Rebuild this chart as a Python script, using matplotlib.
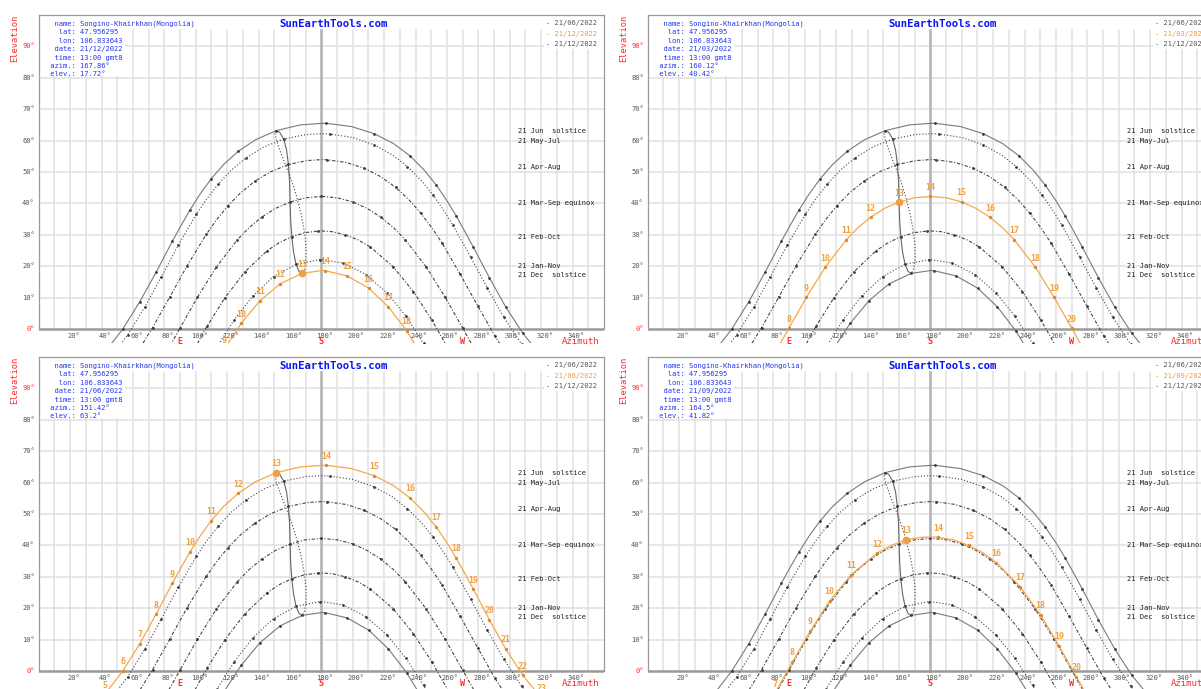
import matplotlib
matplotlib.use('Agg')
import matplotlib.pyplot as plt
from matplotlib.patches import Rectangle

W, H = 1201, 689
MONO = 'DejaVu Sans Mono'

# sun paths on the 21st of each month group, hourly positions (clock time gmt8)
JUN_HOURS = list(range(5, 24))
JUN_AZ = [42.1, 53.7, 64.4, 74.8, 85.2, 96.5, 109.8, 127.1, 151.42, 183.1, 213.8,
          236.6, 253.0, 265.8, 276.8, 287.1, 297.5, 308.4, 320.2]
JUN_EL = [-7.4, 0.1, 8.7, 18.1, 28.0, 38.0, 47.8, 56.6, 63.2, 65.5, 62.2,
          55.1, 46.0, 36.1, 26.1, 16.3, 7.0, -1.4, -8.6]
JUN_HALF_AZ = [90.7, 102.75, 117.7, 138.2, 166.7, 199.2, 226.2, 245.4, 259.7, 271.4]
JUN_HALF_EL = [32.98, 42.93, 52.35, 60.3, 65.0, 64.48, 58.99, 50.67, 41.1, 31.1]

MAY_HOURS = list(range(5, 24))
MAY_AZ = [44.8, 56.6, 67.6, 78.1, 88.8, 100.5, 114.3, 132.1, 156.1, 185.4, 213.4,
          234.9, 251.0, 263.9, 275.1, 285.7, 296.3, 307.6, 319.8]
MAY_EL = [-9.6, -1.9, 7.0, 16.6, 26.6, 36.6, 46.1, 54.5, 60.5, 62.1, 58.7,
          51.7, 42.8, 33.0, 22.9, 13.1, 3.7, -4.8, -12.1]
MAY_HALF_AZ = [107.0, 122.5, 143.2, 170.4, 200.05, 225.0, 243.5, 257.8]
MAY_HALF_EL = [41.43, 50.53, 57.93, 61.93, 61.0, 55.56, 47.4, 37.92]

APR_HOURS = list(range(6, 23))
APR_AZ = [61.1, 72.5, 83.5, 94.6, 106.7, 120.6, 137.8, 159.1, 183.5, 207.3,
          227.4, 243.5, 256.9, 268.5, 279.6, 290.6, 302.3]
APR_EL = [-8.8, 0.4, 10.2, 20.2, 30.1, 39.3, 47.1, 52.4, 53.9, 51.2,
          45.1, 36.8, 27.4, 17.4, 7.4, -2.3, -11.3]
APR_HALF_AZ = [113.3, 128.7, 147.9, 171.1, 195.8, 217.9, 235.9, 250.5]
APR_HALF_EL = [34.8, 43.41, 50.11, 53.65, 53.04, 48.49, 41.14, 32.19]

MAR_HOURS = list(range(7, 22))
MAR_AZ = [78.6, 89.9, 101.1, 113.1, 126.5, 142.0, 160.12, 180.0, 199.9, 218.0,
          233.5, 246.9, 258.9, 270.1, 281.4]
MAR_EL = [-9.8, 0.2, 10.1, 19.7, 28.4, 35.6, 40.42, 42.2, 40.5, 35.6,
          28.4, 19.7, 10.1, 0.2, -9.8]
MAR_HALF_AZ = [133.96, 150.8, 169.9, 190.1, 209.2, 226.0]
MAR_HALF_EL = [32.27, 38.4, 41.79, 41.79, 38.4, 32.27]

FEB_HOURS = list(range(8, 21))
FEB_AZ = [96.1, 107.1, 118.7, 131.3, 145.4, 161.2, 178.2, 195.2, 211.3, 225.8,
          238.7, 250.5, 261.6]
FEB_EL = [-9.1, 0.8, 10.0, 18.2, 24.9, 29.4, 31.2, 30.0, 26.1, 19.8,
          11.9, 2.8, -6.9]
FEB_HALF_AZ = [153.1, 169.6, 186.8, 203.5]
FEB_HALF_EL = [27.46, 30.68, 31.0, 28.37]

JAN_HOURS = list(range(8, 21))
JAN_AZ = [102.9, 113.5, 124.6, 136.5, 149.6, 163.9, 179.0, 194.1, 208.5, 221.8,
          233.9, 245.1, 255.7]
JAN_EL = [-15.3, -5.8, 3.0, 10.6, 16.7, 20.6, 22.1, 21.0, 17.3, 11.5,
          4.1, -4.6, -14.0]

DEC_HOURS = list(range(9, 20))
DEC_AZ = [118.1, 129.1, 140.9, 153.8, 167.86, 182.2, 196.5, 210.2, 222.8, 234.3, 245.0]
DEC_EL = [-6.5, 1.9, 9.0, 14.4, 17.72, 18.6, 16.9, 13.0, 7.0, -0.5, -9.2]

SEP_HOURS = list(range(7, 22))
SEP_AZ = [81.0, 92.2, 103.6, 115.8, 129.7, 145.9, 164.5, 184.8, 204.6, 222.1,
          237.2, 250.2, 261.9, 273.1, 284.4]
SEP_EL = [-7.1, 2.9, 12.8, 22.3, 30.7, 37.5, 41.82, 42.6, 40.0, 34.5,
          26.9, 17.9, 8.1, -1.9, -11.8]
SEP_HALF_AZ = [154.95, 174.6, 194.9, 213.7]
SEP_HALF_EL = [39.94, 42.58, 41.74, 37.6]

# highest point of each path (due south)
NOON_EL = {'jun': 65.48, 'may': 62.19, 'apr': 53.94, 'mar': 42.24,
           'feb': 31.24, 'jan': 22.14, 'dec': 18.6, 'sep': 42.71}

CURVE_KEYS = ['jun', 'may', 'apr', 'mar', 'feb', 'jan', 'dec']
CURVE_NAMES = ['21 Jun  solstice', '21 May-Jul', '21 Apr-Aug', '21 Mar-Sep equinox',
               '21 Feb-Oct', '21 Jan-Nov', '21 Dec  solstice']
NAME_EL = [63.1, 59.9, 51.6, 40.1, 29.3, 20.1, 17.2]

# 13:00 position through the year (analemma)
ANA_SOLID_AZ = [167.86, 165.85, 163.9, 162.3, 161.2, 160.5, 160.12, 159.8, 159.05,
                157.9, 156.1, 153.5, 151.42]
ANA_SOLID_EL = [17.72, 18.33, 20.64, 24.61, 29.41, 34.5, 40.42, 46.81, 52.35,
                56.94, 60.46, 62.63, 63.2]
ANA_DOT_AZ = [151.42, 150.6, 151.4, 154.0, 157.25, 161.3, 164.5, 167.3, 169.4,
              170.35, 170.2, 169.3, 167.86]
ANA_DOT_EL = [63.2, 62.26, 60.07, 56.4, 52.28, 46.96, 41.82, 36.28, 30.56,
              25.43, 21.59, 18.86, 17.72]

# one panel per date: Dec, Mar, Jun, Sep
PANEL_DATES = ['21/12/2022', '21/03/2022', '21/06/2022', '21/09/2022']
PANEL_CURVE = ['dec', 'mar', 'jun', 'sep']
PANEL_AZIM = [167.86, 160.12, 151.42, 164.5]
PANEL_ELEV = [17.72, 40.42, 63.2, 41.82]

PLACE_NAME = 'Songino-Khairkhan(Mongolia)'
LAT = '47.956295'
LON = '106.833643'
TIME = '13:00 gmt8'

PATHS = {
    'jun': (JUN_HOURS, JUN_AZ, JUN_EL, JUN_HALF_AZ, JUN_HALF_EL),
    'may': (MAY_HOURS, MAY_AZ, MAY_EL, MAY_HALF_AZ, MAY_HALF_EL),
    'apr': (APR_HOURS, APR_AZ, APR_EL, APR_HALF_AZ, APR_HALF_EL),
    'mar': (MAR_HOURS, MAR_AZ, MAR_EL, MAR_HALF_AZ, MAR_HALF_EL),
    'feb': (FEB_HOURS, FEB_AZ, FEB_EL, FEB_HALF_AZ, FEB_HALF_EL),
    'jan': (JAN_HOURS, JAN_AZ, JAN_EL, [], []),
    'dec': (DEC_HOURS, DEC_AZ, DEC_EL, [], []),
    'sep': (SEP_HOURS, SEP_AZ, SEP_EL, SEP_HALF_AZ, SEP_HALF_EL),
}
STYLES = {
    'jun': ('#7a7a7a', '-'),
    'may': ('#444444', (0, (1, 1.8))),
    'apr': ('#444444', (0, (3, 1.6, 1, 1.6))),
    'mar': ('#444444', (0, (3, 1.6, 1, 1.6))),
    'feb': ('#444444', (0, (3, 1.6, 1, 1.6))),
    'jan': ('#444444', (0, (1, 1.8))),
    'dec': ('#7a7a7a', '-'),
}

RED = '#ff2a2a'
ORANGE = '#f5a84c'
GRID = '#e0e0e0'
TICK = '#555555'
BLUE = '#2436ee'

X_PX = 1.570   # pixels per degree of azimuth
Y_PX = 3.14    # pixels per degree of elevation


def path_line(key):
    hours, az, el, haz, hel = PATHS[key]
    pts = sorted(list(zip(az, el)) + list(zip(haz, hel)) + [(180.0, NOON_EL[key])])
    return [p[0] for p in pts], [p[1] for p in pts]


def draw_panel(fig, left, top, ymin, k):
    h = (100 - ymin) * Y_PX
    ax = fig.add_axes([left / W, 1 - (top + h) / H, 360 * X_PX / W, h / H])
    ax.set_xlim(0, 360)
    ax.set_ylim(ymin, 100)
    ax.axis('off')

    # grid
    for e in range(10, 100, 10):
        ax.plot([0, 360], [e, e], color=GRID, lw=1.1, zorder=1)
    for a in range(10, 360, 10):
        if a == 180:
            ax.plot([a, a], [0, 95.2], color='#b4b4b4', lw=1.9, zorder=1)
        else:
            ax.plot([a, a], [0, 95.2], color=GRID, lw=1.1, zorder=1)

    # white boxes behind info and legend
    ax.add_patch(Rectangle((0, 80.7), 55, 19.3, fc='white', ec='none', zorder=2))
    ax.add_patch(Rectangle((322, 89.2), 38, 10.8, fc='white', ec='none', zorder=2))

    # frame
    ax.plot([0, 0], [0, 100], color='#9a9a9a', lw=0.9, zorder=2, clip_on=False)
    ax.plot([0, 360], [100, 100], color='#9a9a9a', lw=0.9, zorder=2, clip_on=False)
    ax.plot([360, 360], [0, 100], color='#9a9a9a', lw=0.9, zorder=2, clip_on=False)
    ax.plot([0, 360], [0, 0], color='#9a9a9a', lw=1.8, zorder=2)

    # tick labels
    for e in range(0, 100, 10):
        ax.text(-2.4, e, f'{e}°', ha='right', va='center', family=MONO, fontsize=5.1,
                color=RED if e in (0, 90) else TICK)
    for a in range(20, 360, 20):
        ax.text(a + 2.3, -2.3, f'{a}°', ha='center', va='center', family=MONO,
                fontsize=5.1, color=TICK, zorder=6)
    for a, s in [(90, 'E'), (180, 'S'), (270, 'W')]:
        ax.text(a, -4.0, s, ha='center', va='center', family=MONO, fontsize=6,
                fontweight='bold', color=RED, zorder=6)
    ax.text(345.4, -4.1, 'Azimuth', ha='center', va='center', family=MONO,
            fontsize=6.5, color=RED, zorder=6)
    ax.text(-15.1, 92.7, 'Elevation', ha='center', va='center', rotation=90,
            family=MONO, fontsize=6.3, color=RED, clip_on=False)

    cur = PANEL_CURVE[k]

    # gray sun paths with hourly dots
    for key, name, ne in zip(CURVE_KEYS, CURVE_NAMES, NAME_EL):
        if key != cur:
            color, ls = STYLES[key]
            lx, ly = path_line(key)
            ax.plot(lx, ly, color=color, ls=ls, lw=0.8, zorder=3)
            az, el = PATHS[key][1], PATHS[key][2]
            ax.plot(az, el, 'o', ms=2.0, color='#3a3a3a', mec='none', zorder=4)
        ax.text(305.3, ne, name, ha='left', va='center', family=MONO, fontsize=5.1,
                color='#222222', zorder=6)

    # analemma at 13:00
    ax.plot(ANA_SOLID_AZ, ANA_SOLID_EL, color='#666666', lw=0.8, zorder=3)
    ax.plot(ANA_DOT_AZ, ANA_DOT_EL, color='#444444', lw=0.8, ls=(0, (1, 1.8)), zorder=3)

    # path of the chosen date
    hours, az, el = PATHS[cur][:3]
    lx, ly = path_line(cur)
    ax.plot(lx, ly, color=ORANGE, lw=0.9, zorder=5)
    ax.plot(az, el, 'o', ms=2.4, color='#d88a2c', mec='none', zorder=6)
    for hr, a, e in zip(hours, az, el):
        ax.annotate(str(hr), (a, e), xytext=(0, 6.5), textcoords='offset points',
                    ha='center', va='center', family=MONO, fontsize=6,
                    fontweight='bold', color='#f0a040', clip_on=True,
                    annotation_clip=False, zorder=7)
    ax.plot([PANEL_AZIM[k]], [PANEL_ELEV[k]], 'o', ms=5.5, color='#f0a040',
            mec='none', zorder=8)

    # location info
    info = [('name', PLACE_NAME), ('lat', LAT), ('lon', LON),
            ('date', PANEL_DATES[k]), ('time', TIME),
            ('azim.', f'{PANEL_AZIM[k]}°'), ('elev.', f'{PANEL_ELEV[k]}°')]
    info_el = [97.1, 94.5, 91.8, 89.1, 86.4, 83.8, 81.1]
    for (lab, val), e in zip(info, info_el):
        ax.text(4.4, e, f'{lab:>6}: {val}', ha='left', va='center', family=MONO,
                fontsize=5.1, color=BLUE, zorder=6)

    ax.text(187.5, 97.1, 'SunEarthTools.com', ha='center', va='center', family=MONO,
            fontsize=7.7, fontweight='bold', color='#0a14f5', zorder=6)

    # date legend
    legend = [('21/06/2022', '#555555'), (PANEL_DATES[k], '#f09a3a'),
              ('21/12/2022', '#555555')]
    for (txt, c), e in zip(legend, [97.3, 94.1, 90.8]):
        ax.text(323.2, e, f'- {txt}', ha='left', va='center', family=MONO,
                fontsize=5.1, color=c, zorder=6)
    return ax


fig = plt.figure(figsize=(W / 100, H / 100), dpi=100)
fig.patch.set_facecolor('white')

draw_panel(fig, 38.7, 15, -4.6, 0)
draw_panel(fig, 647.7, 15, -4.6, 1)
draw_panel(fig, 38.7, 357, -5.73, 2)
draw_panel(fig, 647.7, 357, -5.73, 3)

fig.savefig('out.png', dpi=100)
